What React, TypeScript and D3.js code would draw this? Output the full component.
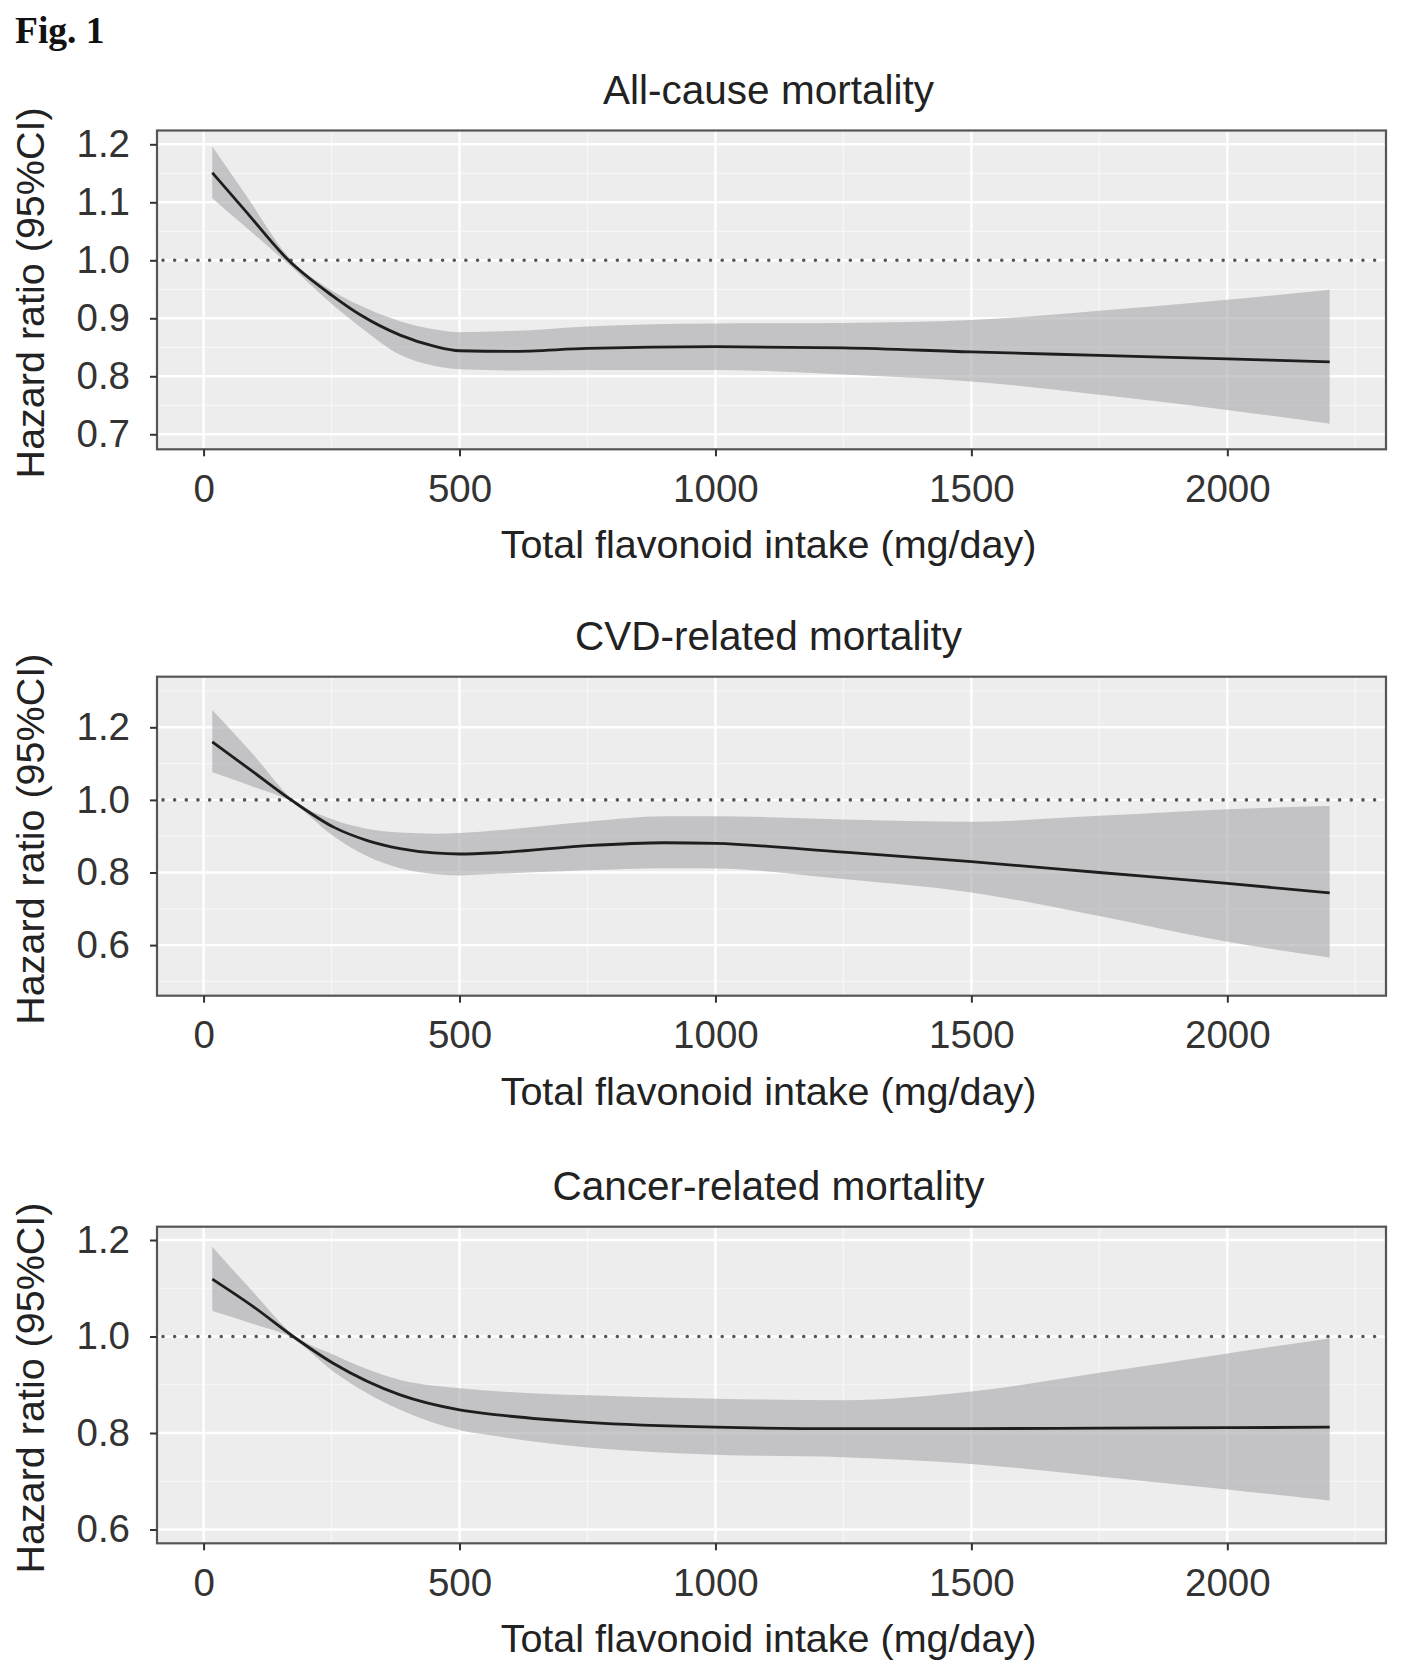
import * as d3 from "d3";
import React, { useEffect, useRef } from "react";

const intakeAll = [17, 80, 166, 250, 306, 384, 450, 500, 600, 750, 1000, 1250, 1500, 1750, 2000, 2200];
const hrAll = [1.151, 1.087, 1.0, 0.94, 0.906, 0.871, 0.852, 0.844, 0.843, 0.848, 0.851, 0.849, 0.842, 0.836, 0.83, 0.825];
const loAll = [1.107, 1.059, 0.993, 0.925, 0.885, 0.837, 0.818, 0.812, 0.81, 0.811, 0.811, 0.803, 0.791, 0.768, 0.742, 0.718];
const hiAll = [1.196, 1.116, 1.006, 0.948, 0.922, 0.895, 0.881, 0.876, 0.878, 0.886, 0.891, 0.892, 0.897, 0.913, 0.932, 0.949];

const intakeCvd = [17, 97, 171, 254, 320, 384, 450, 500, 580, 750, 900, 1000, 1250, 1500, 1750, 2000, 2200];
const hrCvd = [1.16, 1.077, 1.0, 0.925, 0.888, 0.866, 0.854, 0.851, 0.855, 0.874, 0.882, 0.88, 0.856, 0.83, 0.8, 0.77, 0.744];
const loCvd = [1.076, 1.036, 0.995, 0.9, 0.845, 0.812, 0.796, 0.792, 0.797, 0.806, 0.812, 0.811, 0.782, 0.745, 0.68, 0.609, 0.566];
const hiCvd = [1.248, 1.125, 1.005, 0.945, 0.92, 0.91, 0.907, 0.909, 0.917, 0.94, 0.955, 0.955, 0.946, 0.94, 0.956, 0.974, 0.983];

const intakeCancer = [17, 97, 175, 254, 384, 500, 580, 750, 1000, 1250, 1500, 1750, 2000, 2200];
const hrCancer = [1.119, 1.062, 1.0, 0.944, 0.879, 0.848, 0.837, 0.822, 0.812, 0.809, 0.809, 0.81, 0.811, 0.812];
const loCancer = [1.053, 1.026, 0.996, 0.927, 0.848, 0.806, 0.792, 0.77, 0.755, 0.75, 0.736, 0.71, 0.683, 0.66];
const hiCancer = [1.186, 1.092, 1.004, 0.962, 0.91, 0.893, 0.886, 0.878, 0.871, 0.868, 0.886, 0.925, 0.965, 0.996];

const titles = ["All-cause mortality", "CVD-related mortality", "Cancer-related mortality"];

const xTicks = [0, 500, 1000, 1500, 2000];
const xMinor = [250, 750, 1250, 1750, 2250];

const yTicksAll = [0.7, 0.8, 0.9, 1.0, 1.1, 1.2];
const yMinorAll = [0.75, 0.85, 0.95, 1.05, 1.15];
const yTicksCvd = [0.6, 0.8, 1.0, 1.2];
const yMinorCvd = [0.5, 0.7, 0.9, 1.1, 1.3];
const yTicksCancer = [0.6, 0.8, 1.0, 1.2];
const yMinorCancer = [0.7, 0.9, 1.1];

const xLabel = "Total flavonoid intake (mg/day)";
const yLabel = "Hazard ratio (95%CI)";

const W = 1418;
const H = 1676;
const LEFT = 157;
const RIGHT = 1386;
const FONT = "'Liberation Sans', Arial, Helvetica, sans-serif";

const panels = [
  { title: titles[0], x: intakeAll, fit: hrAll, lo: loAll, hi: hiAll, ticks: yTicksAll, minor: yMinorAll, top: 130.5, bottom: 449.3, yDomain: [0.6741, 1.2238] },
  { title: titles[1], x: intakeCvd, fit: hrCvd, lo: loCvd, hi: hiCvd, ticks: yTicksCvd, minor: yMinorCvd, top: 676.7, bottom: 995.7, yDomain: [0.4606, 1.3394] },
  { title: titles[2], x: intakeCancer, fit: hrCancer, lo: loCancer, hi: hiCancer, ticks: yTicksCancer, minor: yMinorCancer, top: 1226.7, bottom: 1543.3, yDomain: [0.5714, 1.2276] },
];

const App: React.FC = () => {
  const svgRef = useRef<SVGSVGElement>(null);

  useEffect(() => {
    const svg = d3.select(svgRef.current);
    svg.selectAll("*").remove();

    svg.append("text")
      .attr("x", 15)
      .attr("y", 43)
      .attr("font-family", "'Liberation Serif', 'DejaVu Serif', serif")
      .attr("font-weight", "bold")
      .attr("font-size", 37.5)
      .attr("fill", "#111")
      .text("Fig. 1");

    const x = d3.scaleLinear().domain([-91, 2310]).range([LEFT, RIGHT]);

    panels.forEach(p => {
      const y = d3.scaleLinear().domain(p.yDomain).range([p.bottom, p.top]);
      const g = svg.append("g");
      const pts = p.x.map((v, i) => ({ x: v, fit: p.fit[i], lo: p.lo[i], hi: p.hi[i] }));

      // panel background
      g.append("rect")
        .attr("x", LEFT).attr("y", p.top)
        .attr("width", RIGHT - LEFT).attr("height", p.bottom - p.top)
        .attr("fill", "#ededed");

      // minor grid
      g.selectAll(".xminor").data(xMinor).enter().append("line")
        .attr("x1", d => x(d)).attr("x2", d => x(d))
        .attr("y1", p.top).attr("y2", p.bottom)
        .attr("stroke", "#f7f7f7").attr("stroke-width", 1.2);
      g.selectAll(".yminor").data(p.minor).enter().append("line")
        .attr("x1", LEFT).attr("x2", RIGHT)
        .attr("y1", d => y(d)).attr("y2", d => y(d))
        .attr("stroke", "#f7f7f7").attr("stroke-width", 1.2);

      // major grid
      g.selectAll(".xmajor").data(xTicks).enter().append("line")
        .attr("x1", d => x(d)).attr("x2", d => x(d))
        .attr("y1", p.top).attr("y2", p.bottom)
        .attr("stroke", "#ffffff").attr("stroke-width", 2.4);
      g.selectAll(".ymajor").data(p.ticks).enter().append("line")
        .attr("x1", LEFT).attr("x2", RIGHT)
        .attr("y1", d => y(d)).attr("y2", d => y(d))
        .attr("stroke", "#ffffff").attr("stroke-width", 2.4);

      // confidence band
      const band = d3.area<any>()
        .x(d => x(d.x))
        .y0(d => y(d.lo))
        .y1(d => y(d.hi))
        .curve(d3.curveMonotoneX);
      g.append("path").datum(pts)
        .attr("d", band)
        .attr("fill", "#a9aaac")
        .attr("fill-opacity", 0.62);

      // reference line HR = 1
      g.append("line")
        .attr("x1", LEFT + 6).attr("x2", RIGHT)
        .attr("y1", y(1)).attr("y2", y(1))
        .attr("stroke", "#555")
        .attr("stroke-width", 3.6)
        .attr("stroke-linecap", "round")
        .attr("stroke-dasharray", "0 11.65");

      // fitted curve
      const line = d3.line<any>()
        .x(d => x(d.x))
        .y(d => y(d.fit))
        .curve(d3.curveMonotoneX);
      g.append("path").datum(pts)
        .attr("d", line)
        .attr("fill", "none")
        .attr("stroke", "#1e1e1e")
        .attr("stroke-width", 2.8);

      // border
      g.append("rect")
        .attr("x", LEFT).attr("y", p.top)
        .attr("width", RIGHT - LEFT).attr("height", p.bottom - p.top)
        .attr("fill", "none")
        .attr("stroke", "#555")
        .attr("stroke-width", 2.2);

      // axes
      const yAxis = g.append("g")
        .attr("transform", `translate(${LEFT},0)`)
        .call(d3.axisLeft(y).tickValues(p.ticks).tickSize(7).tickPadding(20).tickFormat(d3.format(".1f")));
      const xAxis = g.append("g")
        .attr("transform", `translate(0,${p.bottom})`)
        .call(d3.axisBottom(x).tickValues(xTicks).tickSize(7).tickPadding(18).tickFormat(d3.format("d")));
      [yAxis, xAxis].forEach(a => {
        a.select(".domain").remove();
        a.attr("font-family", FONT).attr("font-size", 38.5);
        a.selectAll(".tick line").attr("stroke", "#333").attr("stroke-width", 2);
        a.selectAll(".tick text").attr("fill", "#333");
      });

      const cx = (LEFT + RIGHT) / 2;
      g.append("text")
        .attr("x", cx - 3).attr("y", p.top - 27)
        .attr("text-anchor", "middle")
        .attr("font-family", FONT).attr("font-size", 40.5)
        .attr("fill", "#222")
        .text(p.title);

      g.append("text")
        .attr("x", cx - 3).attr("y", p.bottom + 109)
        .attr("text-anchor", "middle")
        .attr("font-family", FONT).attr("font-size", 39.5)
        .attr("fill", "#222")
        .text(xLabel);

      g.append("text")
        .attr("transform", `translate(44,${(p.top + p.bottom) / 2 + 3}) rotate(-90)`)
        .attr("text-anchor", "middle")
        .attr("font-family", FONT).attr("font-size", 39.5)
        .attr("fill", "#222")
        .text(yLabel);
    });
  }, []);

  return (
    <svg
      ref={svgRef}
      width={W}
      height={H}
      style={{ position: "absolute", left: 0, top: 0, background: "#fff", display: "block" }}
    />
  );
};

export default App;
